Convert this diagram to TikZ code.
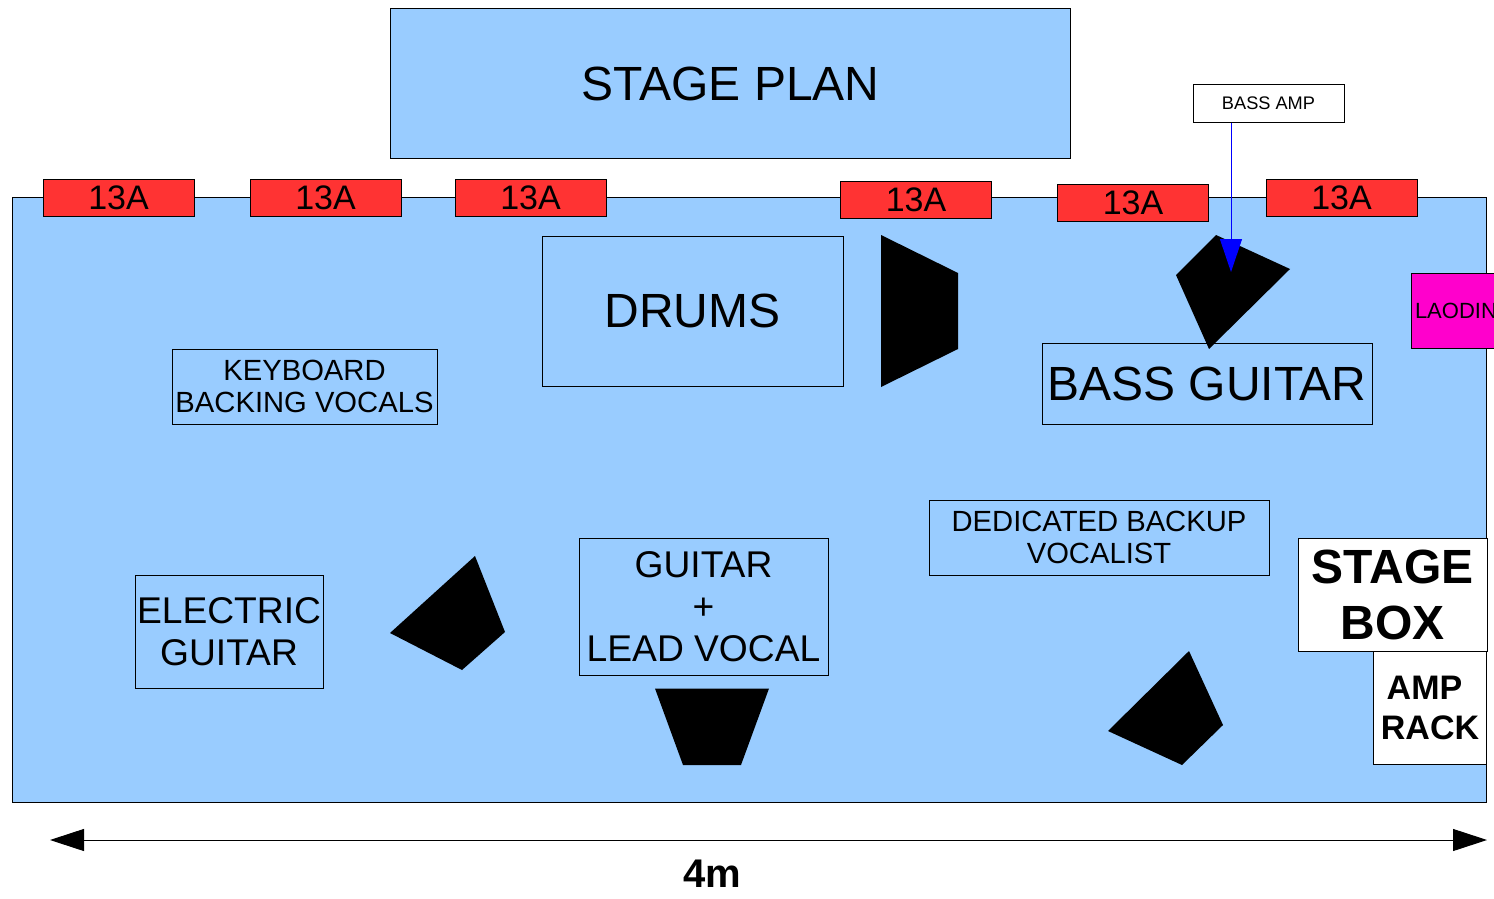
\documentclass[tikz,border=0pt]{standalone}
\usepackage{fontspec}
\setmainfont{Liberation Sans}
\usetikzlibrary{arrows.meta}
\definecolor{floorblue}{HTML}{99CCFF}
\definecolor{outletred}{HTML}{FF3333}
\definecolor{loadpink}{HTML}{FF00CC}
\newcommand{\sized}[2]{\fontsize{#1}{#2}\selectfont}
\begin{document}
\begin{tikzpicture}[x=.5pt,y=-.5pt,line width=.5pt,
 every node/.style={draw=black,inner sep=0pt,align=center},
 blue box/.style={fill=floorblue},
 act/.style={blue box,font=\sized{14.6}{16.2}},
 big/.style={blue box,font=\sized{24}{28}},
 mid/.style={blue box,font=\sized{18.6}{21}},
 outlet/.style={fill=outletred,minimum width=75.5pt,minimum height=18.5pt,font=\sized{17}{20}},
 crate/.style={fill=white,font=\bfseries\sized{24}{28}},
 monitor/.style={fill=black,draw=none}]
\useasboundingbox(0,0)rectangle(1494,899);
\fill[floorblue,draw=black](12,197)rectangle(1486.5,802.5);
\node[big,minimum width=340pt,minimum height=75pt](plan)at(730.5,84){STAGE PLAN};
\node[fill=white,minimum width=75.5pt,minimum height=19pt,font=\sized{9.1}{11}](bassamp)at(1268.5,103.2){BASS AMP};
\node[outlet](o1)at(118.5,198){13A};\node[outlet](o2)at(325.5,198){13A};
\node[outlet](o3)at(530.5,198){13A};\node[outlet](o4)at(916,200){13A};
\node[outlet](o5)at(1133,203){13A};\node[outlet](o6)at(1341.5,198){13A};
\node[big,minimum width=150.5pt,minimum height=75pt](drums)at(692.5,311){DRUMS};
\node[act,minimum width=132.5pt,minimum height=37.5pt](keys)at(304.5,386.5){KEYBOARD\\BACKING VOCALS};
\node[big,minimum width=165pt,minimum height=40.5pt](bass)at(1207,383.5){BASS GUITAR};
\node[fill=loadpink,minimum width=50pt,minimum height=37.5pt](load)at(1461,310.5){};
\node[draw=none,anchor=west,font=\sized{11}{13}](loadtext)at(1414.5,311){LAODIN};
\node[act,minimum width=170pt,minimum height=37.5pt](backup)at(1099,537.5){DEDICATED BACKUP\\VOCALIST};
\node[mid,minimum width=124.5pt,minimum height=68.5pt](lead)at(703.5,606.5){GUITAR\\+\\LEAD VOCAL};
\node[mid,minimum width=94pt,minimum height=56.5pt](electric)at(229,631.5){ELECTRIC\\GUITAR};
\node[crate,minimum width=94.5pt,minimum height=56.5pt](stagebox)at(1392.5,594.5){STAGE\\BOX};
\node[crate,minimum width=56.5pt,minimum height=56.5pt,font=\bfseries\sized{17}{20}](rack)at(1430,708){\hbox{AMP\kern5.5pt}\\RACK};
\fill[monitor](881,235)--(958,273)--(958,349)--(881,387)--cycle;
\fill[monitor](1216,235)--(1290,269)--(1209,349)--(1176,275)--cycle;
\fill[monitor](1189,651)--(1223,725)--(1182,765)--(1108,731)--cycle;
\fill[monitor](475,556)--(505,632)--(462,670)--(390,633)--cycle;
\fill[monitor](655,688.5)--(769,688.5)--(741,765)--(683,765)--cycle;
\coordinate(basstip)at(1231,272);\coordinate(leftend)at(50,840);\coordinate(rightend)at(1487,840);
\draw[-{Triangle[length=16.5pt,width=11pt]},blue](bassamp.south-|basstip)--(basstip);
\draw[{Triangle[length=17pt,width=11pt]}-{Triangle[length=17pt,width=11pt]}](leftend)--(rightend);
\node[draw=none,font=\bfseries\sized{20}{24}](width)at(712,874){4m};
\end{tikzpicture}
\end{document}
